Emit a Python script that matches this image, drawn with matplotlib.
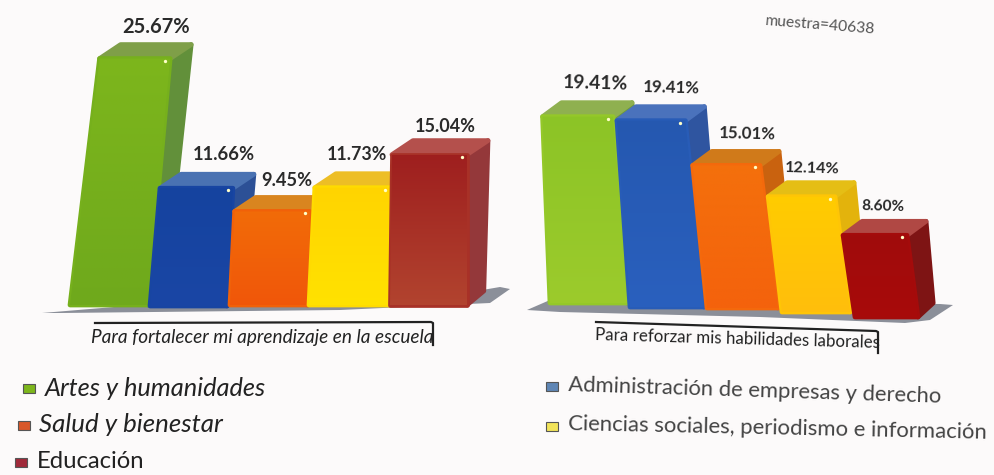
import numpy as np
import matplotlib
matplotlib.use("Agg")
import matplotlib.pyplot as plt
from matplotlib.colors import to_rgb
from matplotlib.patches import Polygon, Rectangle

plt.rcParams['font.family'] = ['Lato', 'DejaVu Sans']

categories = ["Artes y humanidades", "Administración de empresas y derecho", "Salud y bienestar",
              "Ciencias sociales, periodismo e información", "Educación"]
panel_titles = ["Para fortalecer mi aprendizaje en la escuela", "Para reforzar mis habilidades laborales"]
left_values = [25.67, 11.66, 9.45, 11.73, 15.04]
right_values = [19.41, 19.41, 15.01, 12.14, 8.60]
left_labels = ["25.67%", "11.66%", "9.45%", "11.73%", "15.04%"]
right_labels = ["19.41%", "19.41%", "15.01%", "12.14%", "8.60%"]

L_front_a = ["#7DB61C", "#15439F", "#F26C08", "#FFD400", "#9E1E1E"]
L_front_b = ["#6FA91C", "#1A46A5", "#F0560A", "#FFE200", "#B2442F"]
L_top   = ["#7F9F48", "#4A72B2", "#D9851F", "#EDBE25", "#B4504C"]
L_side  = ["#62903A", "#2C5096", "#C46F14", "#E0B020", "#94383A"]
R_front_a = ["#8CC426", "#2558B0", "#F4700C", "#FFCC00", "#A00C0C"]
R_front_b = ["#9CCB2C", "#2A60BE", "#F4620C", "#FFBE0C", "#A80A0A"]
R_top   = ["#8FB050", "#4A72BC", "#D07A1A", "#E5BE15", "#B04844"]
R_side  = ["#6F9A3A", "#2F55A0", "#C9620F", "#E3B30C", "#7E1414"]

W, H = 995, 475
fig = plt.figure(figsize=(W/100, H/100), dpi=100, facecolor="#FCFAFA")
ax = fig.add_axes([0, 0, 1, 1])
ax.set_xlim(0, W)
ax.set_ylim(H, 0)
ax.axis("off")
renderer = fig.canvas.get_renderer()

def fitted(x, y, s, width, ha="center", rotation=0, **kw):
    """Place text whose font size is chosen so the string spans `width` pixels."""
    t = ax.text(x, y, s, ha=ha, va="center", fontsize=10, rotation_mode="anchor", **kw)
    w = t.get_window_extent(renderer).width
    t.set_fontsize(10 * width / w)
    t.set_rotation(rotation)
    return t

def gradient_fill(poly, c0, c1, x0, x1, y0, y1, z):
    a, b = np.array(to_rgb(c0)), np.array(to_rgb(c1))
    f = np.linspace(0, 1, 64)[:, None, None]
    img = (a * (1 - f) + b * f)
    im = ax.imshow(img, extent=[x0, x1, y1, y0], aspect="auto", zorder=z, interpolation="bilinear")
    im.set_clip_path(poly)

def bars(values, labels, xb0, xb1, base, scale, lean0, lean1, fa, fb, top, side, label_xy, label_w,
         rot=0, dx=21, dy=14):
    for i, v in enumerate(values):
        h = v * scale[i]
        b = base[i]
        t = b - h
        xt0 = xb0[i] + lean0[i] * h
        xt1 = xb1[i] + lean1[i] * h
        z = 2 + i * 0.1
        kw = dict(lw=3.4, joinstyle="round", zorder=z)
        mid = tuple((np.array(to_rgb(fa[i])) + np.array(to_rgb(fb[i]))) / 2)
        ax.add_patch(Polygon([(xt1, t), (xt1+dx, t-dy), (xb1[i]+dx*.8, b-dy), (xb1[i], b)],
                             fc=side[i], ec=side[i], **kw))
        ax.add_patch(Polygon([(xt0, t), (xt0+dx, t-dy), (xt1+dx, t-dy), (xt1, t)],
                             fc=top[i], ec=top[i], **kw))
        poly = Polygon([(xt0, t), (xt1, t), (xb1[i], b), (xb0[i], b)], fc=mid, ec=mid, **kw)
        ax.add_patch(poly)
        gradient_fill(poly, fa[i], fb[i], min(xt0, xb0[i])-3, max(xt1, xb1[i])+3, t-3, b+3, z+.01)
        ax.plot([xt1-5], [t+2], marker="o", ms=2.4, color="#FFFFC8", mec="none", zorder=z+.02)
        fitted(label_xy[i][0], label_xy[i][1], labels[i], label_w[i], rotation=rot,
               fontweight="bold", color="#2A2A2A", zorder=6)

# floor shadows
ax.add_patch(Polygon([(42, 313), (150, 304), (400, 304), (500, 287), (510, 289), (490, 303), (340, 310), (60, 313)],
                     fc="#777C88", ec="none", alpha=.85, zorder=1))
ax.add_patch(Polygon([(527, 310), (550, 300), (940, 304), (953, 305), (930, 320), (905, 323), (760, 317), (560, 312)],
                     fc="#777C88", ec="none", alpha=.85, zorder=1))

bars(left_values, left_labels,
     [70, 150, 230, 309, 390], [148, 227, 308, 389, 467],
     [305, 306, 305, 305, 305], [9.6, 10.1, 9.9, 10.0, 10.0],
     [.12, .085, .05, .05, .013], [.09, .05, .02, .01, 0],
     L_front_a, L_front_b, L_top, L_side,
     [(156, 27), (224, 155), (287, 180), (357, 154), (445, 127)],
     [68, 62, 51, 60, 61])
bars(right_values, right_labels,
     [550, 630, 707, 782, 855], [627, 704, 778, 850, 918],
     [303, 307, 308, 312, 317], [9.6, 9.6, 9.5, 9.5, 9.5],
     [-.04, -.07, -.1, -.12, -.146], [-.075, -.1, -.126, -.13, -.134],
     R_front_a, R_front_b, R_top, R_side,
     [(595, 83), (671, 88), (747, 134), (812, 169), (883, 207)],
     [65, 57, 57, 55, 43], rot=-1.5, dx=19)
ax.set_xlim(0, W)
ax.set_ylim(H, 0)

ax.plot([95, 431, 433, 433], [323, 322, 323, 345], color="#222222", lw=1.6, zorder=4)
fitted(91, 338, panel_titles[0], 341, ha="left", color="#222222", style="italic")
ax.plot([596, 876, 878, 878], [322, 331, 332, 353], color="#222222", lw=1.6, zorder=4)
fitted(595, 335, panel_titles[1], 285, ha="left", color="#222222", rotation=-1.6)

fitted(820, 25, "muestra=40638", 110, color="#555555", rotation=-4.5)

legend_marker = [(23, 388), (546, 386), (18, 425), (546, 426), (15, 462)]
legend_text = [(45, 388), (568, 385), (39, 425), (568, 424), (37, 462)]
legend_width = [221, 375, 184, 420, 108]
legend_rot = [0, -1.8, 0, -1.2, 0]
legend_col = ["#7DB61C", "#5F86B5", "#D8582A", "#F2E45A", "#A02A3A"]
legend_txt = ["#222222", "#444444", "#222222", "#444444", "#222222"]
for i, name in enumerate(categories):
    x, y = legend_marker[i]
    ax.add_patch(Rectangle((x, y-4), 12, 9, fc=legend_col[i], ec="#555555", lw=.8))
    tx, ty = legend_text[i]
    fitted(tx, ty, name, legend_width[i], ha="left", rotation=legend_rot[i], color=legend_txt[i],
           style="italic" if i in (0, 2) else "normal")

fig.savefig("out.png", dpi=100, facecolor=fig.get_facecolor())
